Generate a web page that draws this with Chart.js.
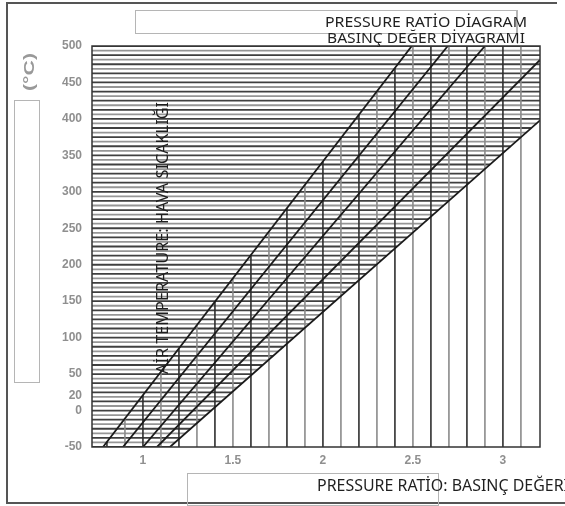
<!DOCTYPE html>
<html>
<head>
<meta charset="utf-8">
<script src="https://cdn.jsdelivr.net/npm/chart.js@4/dist/chart.umd.min.js"></script>
<style>
  html, body { margin: 0; padding: 0; background: #fff; }
  #wrap { width: 565px; height: 506px; }
</style>
</head>
<body>
<div id="wrap"><canvas id="prChart" width="565" height="506"></canvas></div>
<script>
// axis ticks
const tempTicks  = [-50, 0, 20, 50, 100, 150, 200, 250, 300, 350, 400, 450, 500];
const ratioTicks = [1, 1.5, 2, 2.5, 3];

// diagonal lines: start ratio at -50 °C, end point (ratio, temp)
const diagFromRatio = [0.778, 0.889, 1.0, 1.078, 1.15];
const diagToRatio   = [2.494, 2.694, 2.9, 3.206, 3.206];
const diagToTemp    = [500, 500, 500, 481, 398];

const T_MIN = -50, T_MAX = 500;
const R_MIN = 0.717, R_MAX = 3.206;
const hStep = 6.25;   // spacing of the horizontal hatch
const vStep = 0.1;    // spacing of the vertical hatch

// temperature on diagonal i for a given ratio, and the inverse
function diagTemp(i, r) {
  const k = (diagToTemp[i] - T_MIN) / (diagToRatio[i] - diagFromRatio[i]);
  return T_MIN + (r - diagFromRatio[i]) * k;
}
function diagRatio(i, t) {
  const k = (diagToTemp[i] - T_MIN) / (diagToRatio[i] - diagFromRatio[i]);
  return diagFromRatio[i] + (t - T_MIN) / k;
}

const datasets = [];
const last = diagFromRatio.length - 1;

// the diagonals (on top)
diagFromRatio.forEach((r0, i) => {
  datasets.push({
    data: [{x: r0, y: T_MIN}, {x: diagToRatio[i], y: diagToTemp[i]}],
    borderColor: '#1a1a1a', borderWidth: 1.8, order: 0
  });
});
// verticals: from the bottom up to the top diagonal
let n = 0;
for (let r = 0.8; r <= 3.1 + 0.001; r += vStep, n++) {
  datasets.push({
    data: [{x: r, y: T_MIN}, {x: r, y: Math.min(T_MAX, diagTemp(0, r))}],
    borderColor: n % 2 ? '#8a8a8a' : '#2e2e2e', borderWidth: 1.6, order: 1
  });
}
// horizontals: from the left edge to the lowest diagonal
n = 0;
for (let t = T_MIN; t <= T_MAX + 0.01; t += hStep, n++) {
  datasets.push({
    data: [{x: R_MIN, y: t}, {x: Math.min(R_MAX, diagRatio(last, t)), y: t}],
    borderColor: n % 2 ? '#969696' : '#404040', borderWidth: 1.8, order: 2
  });
}

function fitText(ctx, text, x, y, w, font) {
  ctx.font = font;
  const m = ctx.measureText(text).width;
  ctx.save();
  ctx.translate(x, y);
  ctx.scale(w / m, 1);
  ctx.textAlign = 'left';
  ctx.textBaseline = 'alphabetic';
  ctx.fillText(text, 0, 0);
  ctx.restore();
}

const decor = {
  id: 'decor',
  beforeDraw(chart) {
    const ctx = chart.ctx;
    ctx.save();
    ctx.fillStyle = '#fff';
    ctx.fillRect(0, 0, chart.width, chart.height);
    // outer frame
    ctx.strokeStyle = '#555';
    ctx.lineWidth = 2;
    ctx.beginPath();
    ctx.moveTo(557, 3); ctx.lineTo(7, 3); ctx.lineTo(7, 503); ctx.lineTo(565, 503);
    ctx.stroke();
    // empty boxes
    ctx.strokeStyle = '#b5b5b5';
    ctx.lineWidth = 1;
    ctx.strokeRect(135.5, 10.5, 381, 23);
    ctx.strokeRect(14.5, 100.5, 25, 282);
    ctx.strokeRect(187.5, 473.5, 251, 32);
    ctx.beginPath(); ctx.moveTo(517.5, 10); ctx.lineTo(517.5, 44); ctx.stroke();
    ctx.restore();
  },
  afterDraw(chart) {
    const ctx = chart.ctx, a = chart.chartArea;
    ctx.save();
    ctx.strokeStyle = '#333';
    ctx.lineWidth = 1.5;
    ctx.strokeRect(a.left, a.top, a.right - a.left, a.bottom - a.top);

    ctx.fillStyle = '#1f1f1f';
    fitText(ctx, 'PRESSURE RATİO DİAGRAM', 325, 27, 202, '15px "Noto Sans"');
    fitText(ctx, 'BASINÇ DEĞER DİYAGRAMI', 327, 43, 198, '15px "Noto Sans"');
    fitText(ctx, 'PRESSURE RATİO: BASINÇ DEĞERİ', 317, 491, 252, '16px "Noto Sans"');

    ctx.save();
    ctx.translate(168, 374);
    ctx.rotate(-Math.PI / 2);
    fitText(ctx, 'AİR TEMPERATURE: HAVA SICAKLIĞI', 0, 0, 272, '16px "Noto Sans"');
    ctx.restore();

    ctx.save();
    ctx.fillStyle = '#999';
    ctx.translate(34, 91);
    ctx.rotate(-Math.PI / 2);
    fitText(ctx, '(°C)', 0, 0, 38, 'bold 14px "Liberation Sans"');
    ctx.restore();
    ctx.restore();
  }
};

new Chart(document.getElementById('prChart'), {
  type: 'line',
  data: { datasets },
  options: {
    responsive: false,
    animation: false,
    devicePixelRatio: 1,
    parsing: false,
    elements: { point: { radius: 0 }, line: { tension: 0 } },
    layout: { padding: { top: 46, right: 25, left: 0, bottom: 0 } },
    plugins: { legend: { display: false }, tooltip: { enabled: false } },
    scales: {
      x: {
        type: 'linear', min: R_MIN, max: R_MAX,
        grid: { display: false, drawTicks: false },
        border: { display: false },
        afterBuildTicks: s => { s.ticks = ratioTicks.map(v => ({ value: v })); },
        afterFit: s => { s.height = 59; },
        ticks: {
          autoSkip: false, maxRotation: 0, padding: 6,
          color: '#8f8f8f', font: { family: 'Liberation Sans', size: 12, weight: 'bold' },
          callback: v => String(v)
        }
      },
      y: {
        type: 'linear', min: T_MIN, max: T_MAX,
        grid: { display: false, drawTicks: false },
        border: { display: false },
        afterBuildTicks: s => { s.ticks = tempTicks.map(v => ({ value: v })); },
        afterFit: s => { s.width = 92; },
        ticks: {
          autoSkip: false, padding: 10,
          color: '#8f8f8f', font: { family: 'Liberation Sans', size: 12, weight: 'bold' },
          callback: v => String(v)
        }
      }
    }
  },
  plugins: [decor]
});
</script>
</body>
</html>
